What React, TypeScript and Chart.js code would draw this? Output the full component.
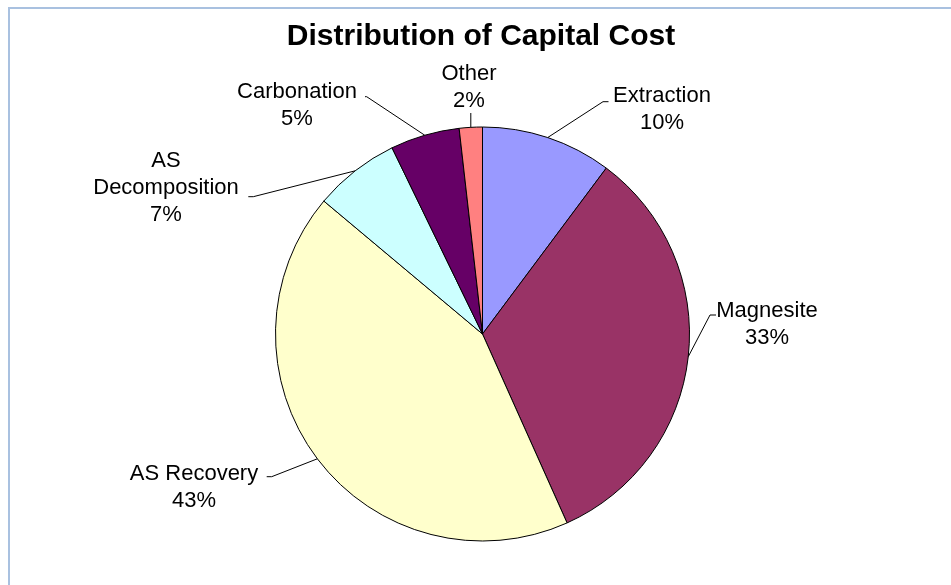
import React, { useEffect, useRef } from "react";
import { Chart, registerables } from "chart.js";

Chart.register(...registerables);

const titleText = "Distribution of Capital Cost";
const categories = ["Extraction", "Magnesite", "AS Recovery", "AS Decomposition", "Carbonation", "Other"];
const labelLines = [["Extraction"], ["Magnesite"], ["AS Recovery"], ["AS", "Decomposition"], ["Carbonation"], ["Other"]];
const values = [10.2, 33.1, 42.8, 6.7, 5.4, 1.8];
const colors = ["#9999FF", "#993366", "#FFFFCC", "#CCFFFF", "#660066", "#FF8080"];

// label placement (styling): text block centre x, first baseline y, knee + end of leader line
const labelLayout = [
  { cx: 662, y: 101.7, kneeX: 603, endX: 608.5, lineY: 101.7 },
  { cx: 767, y: 317, kneeX: 710, endX: 716, lineY: 315 },
  { cx: 194, y: 480, kneeX: 271.7, endX: 266.7, lineY: 476.7 },
  { cx: 166, y: 166.7, kneeX: 253.3, endX: 248.3, lineY: 196.7 },
  { cx: 297, y: 98, kneeX: 366.7, endX: 365, lineY: 96.7 },
  { cx: 469, y: 80, kneeX: null, endX: null, lineY: 113 },
];

const FONT = '"Liberation Sans", Arial, sans-serif';
const LINE_H = 27;

const decorPlugin = {
  id: "decor",
  afterDraw(chart: any) {
    const ctx = chart.ctx as CanvasRenderingContext2D;
    ctx.save();
    // outer frame (top and left visible)
    ctx.strokeStyle = "#A9C1E0";
    ctx.lineWidth = 2;
    ctx.beginPath();
    ctx.moveTo(9, 600);
    ctx.lineTo(9, 8);
    ctx.lineTo(960, 8);
    ctx.stroke();

    // title
    ctx.fillStyle = "#000";
    ctx.font = `bold 30px ${FONT}`;
    ctx.textAlign = "center";
    ctx.textBaseline = "alphabetic";
    ctx.fillText(titleText, 481, 45);

    const total = values.reduce((a, b) => a + b, 0);
    const meta = chart.getDatasetMeta(0);
    ctx.font = `22px ${FONT}`;
    ctx.lineWidth = 1;
    ctx.strokeStyle = "#000";
    meta.data.forEach((arc: any, i: number) => {
      const p = arc.getProps(["x", "y", "startAngle", "endAngle", "outerRadius"], true);
      const mid = (p.startAngle + p.endAngle) / 2;
      const ex = p.x + Math.cos(mid) * p.outerRadius;
      const ey = p.y + Math.sin(mid) * p.outerRadius;
      const L = labelLayout[i];
      ctx.beginPath();
      ctx.moveTo(ex, ey);
      if (L.kneeX === null) {
        ctx.lineTo(ex, L.lineY);
      } else {
        ctx.lineTo(L.kneeX, L.lineY);
        ctx.lineTo(L.endX as number, L.lineY);
      }
      ctx.stroke();
      const lines = [...labelLines[i], `${Math.round((values[i] / total) * 100)}%`];
      ctx.fillStyle = "#000";
      ctx.textAlign = "center";
      lines.forEach((t, k) => ctx.fillText(t, L.cx, L.y + k * LINE_H));
    });
    ctx.restore();
  },
};

export default function App() {
  const ref = useRef<HTMLCanvasElement | null>(null);
  useEffect(() => {
    if (!ref.current) return;
    const chart = new Chart(ref.current, {
      type: "pie",
      data: {
        labels: categories,
        datasets: [
          {
            data: values,
            backgroundColor: colors,
            borderColor: "#000",
            borderWidth: 1,
            hoverBorderWidth: 1,
          },
        ],
      },
      options: {
        responsive: false,
        animation: false,
        events: [],
        layout: { padding: { left: 275, right: 261, top: 126.5, bottom: 43.5 } },
        plugins: {
          legend: { display: false },
          title: { display: false },
          tooltip: { enabled: false },
        },
      },
      plugins: [decorPlugin],
    });
    return () => chart.destroy();
  }, []);
  return (
    <div style={{ position: "fixed", left: 0, top: 0, width: 951, height: 585, background: "#fff" }}>
      <canvas ref={ref} width={951} height={585} style={{ display: "block", width: 951, height: 585 }} />
    </div>
  );
}
